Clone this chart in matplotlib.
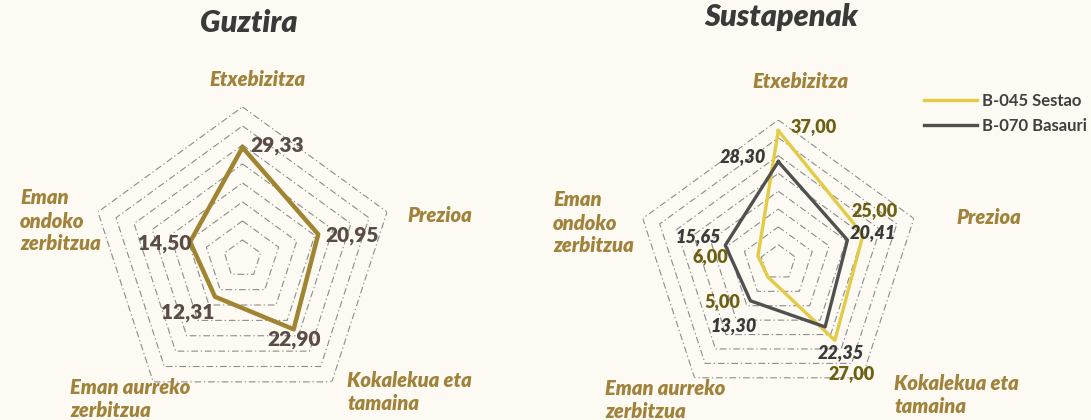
import numpy as np
import matplotlib.pyplot as plt

plt.rcParams['font.family'] = ['Lato', 'DejaVu Sans']

categories = ["Etxebizitza", "Prezioa", "Kokalekua eta\ntamaina",
              "Eman aurreko\nzerbitzua", "Eman\nondoko\nzerbitzua"]
guztira = [29.33, 20.95, 22.90, 12.31, 14.50]
sestao = [37.00, 25.00, 27.00, 5.00, 6.00]
basauri = [28.30, 20.41, 22.35, 13.30, 15.65]
series_names = ["B-045 Sestao", "B-070 Basauri"]
rings = [5, 10, 15, 20, 25, 30, 35, 40]

bg = '#FCFAF2'
cat_color = '#A0823A'
W, H = 1091, 420
BOLD = 'heavy'

fig = plt.figure(figsize=(W / 100, H / 100), dpi=100, facecolor=bg)

theta = np.linspace(0, 2 * np.pi, len(categories), endpoint=False)
theta_c = np.append(theta, theta[0])


def radar_axes(cx, cy, R):
    ax = fig.add_axes([(cx - R) / W, (H - cy - R) / H, 2 * R / W, 2 * R / H],
                      projection='polar')
    ax.set_theta_offset(np.pi / 2)
    ax.set_theta_direction(-1)
    ax.set_ylim(0, rings[-1])
    ax.set_facecolor('none')
    ax.spines['polar'].set_visible(False)
    ax.grid(False)
    ax.set_xticks([])
    ax.set_yticks([])
    for r in rings:
        ax.plot(theta_c, [r] * len(theta_c), color='#8C8C8C', lw=0.8,
                ls=(0, (6, 2.5, 1.2, 2.5)), zorder=1)
    return ax


def close(v):
    return list(v) + [v[0]]


def fpx(x, y):
    return x / W, 1 - y / H


def cat_labels(pos):
    for (x, y, ha), txt in zip(pos, categories):
        fig.text(*fpx(x, y), txt, ha=ha, va='center', color=cat_color,
                 fontsize=14.5, fontweight=BOLD, fontstyle='italic',
                 linespacing=1.25)


# ---- Guztira ----
ax1 = radar_axes(242.5, 258.9, 152)
ax1.plot(theta_c, close(guztira), color='#A08432', lw=3.2, zorder=3)
offs1 = [(35, 2), (34, -1), (0, -10), (-27, -16), (-25, -2)]
for t, v, o in zip(theta, guztira, offs1):
    ax1.annotate(f"{v:.2f}".replace('.', ','), (t, v), xytext=o,
                 textcoords='offset pixels', ha='center', va='center',
                 fontsize=15, fontweight=BOLD, color='#5A4B45', zorder=4)
fig.text(*fpx(249, 23), "Guztira", ha='center', va='center', fontsize=22,
         fontweight=BOLD, fontstyle='italic', color='#3A3A3A')
cat_labels([(257.5, 79, 'center'), (407, 216, 'left'), (347, 392, 'left'),
            (70, 399, 'left'), (20, 221, 'left')])

# ---- Sustapenak ----
ax2 = radar_axes(778.3, 262.5, 142.5)
l1, = ax2.plot(theta_c, close(sestao), color='#E3CB45', lw=2.4, zorder=3,
               label=series_names[0])
l2, = ax2.plot(theta_c, close(basauri), color='#505050', lw=2.4, zorder=3,
               label=series_names[1])
offs_s = [(35, 4), (12, 24), (17, -33), (-46, -25), (-48, -1)]
offs_b = [(-35, 5), (26, 7), (16, -26), (-17, -25), (-27, 9)]
for t, v, o in zip(theta, sestao, offs_s):
    ax2.annotate(f"{v:.2f}".replace('.', ','), (t, v), xytext=o,
                 textcoords='offset pixels', ha='center', va='center',
                 fontsize=13, fontweight=BOLD, color='#6E6012', zorder=4)
for t, v, o in zip(theta, basauri, offs_b):
    ax2.annotate(f"{v:.2f}".replace('.', ','), (t, v), xytext=o,
                 textcoords='offset pixels', ha='center', va='center',
                 fontsize=13, fontweight=BOLD, fontstyle='italic',
                 color='#3A3A3A', zorder=4)
fig.text(*fpx(781, 17), "Sustapenak", ha='center', va='center', fontsize=22,
         fontweight=BOLD, fontstyle='italic', color='#3A3A3A')
cat_labels([(800, 81, 'center'), (956, 217, 'left'), (894, 395, 'left'),
            (605, 400, 'left'), (553, 223, 'left')])

fig.legend(handles=[l1, l2], loc='upper left', bbox_to_anchor=fpx(924, 93),
           frameon=False, borderpad=0, borderaxespad=0, handlelength=3.2,
           handletextpad=0.3, labelspacing=0.55,
           prop={'weight': 'bold', 'size': 12}, labelcolor='#404040')

fig.savefig("out.png", dpi=100, facecolor=bg)
